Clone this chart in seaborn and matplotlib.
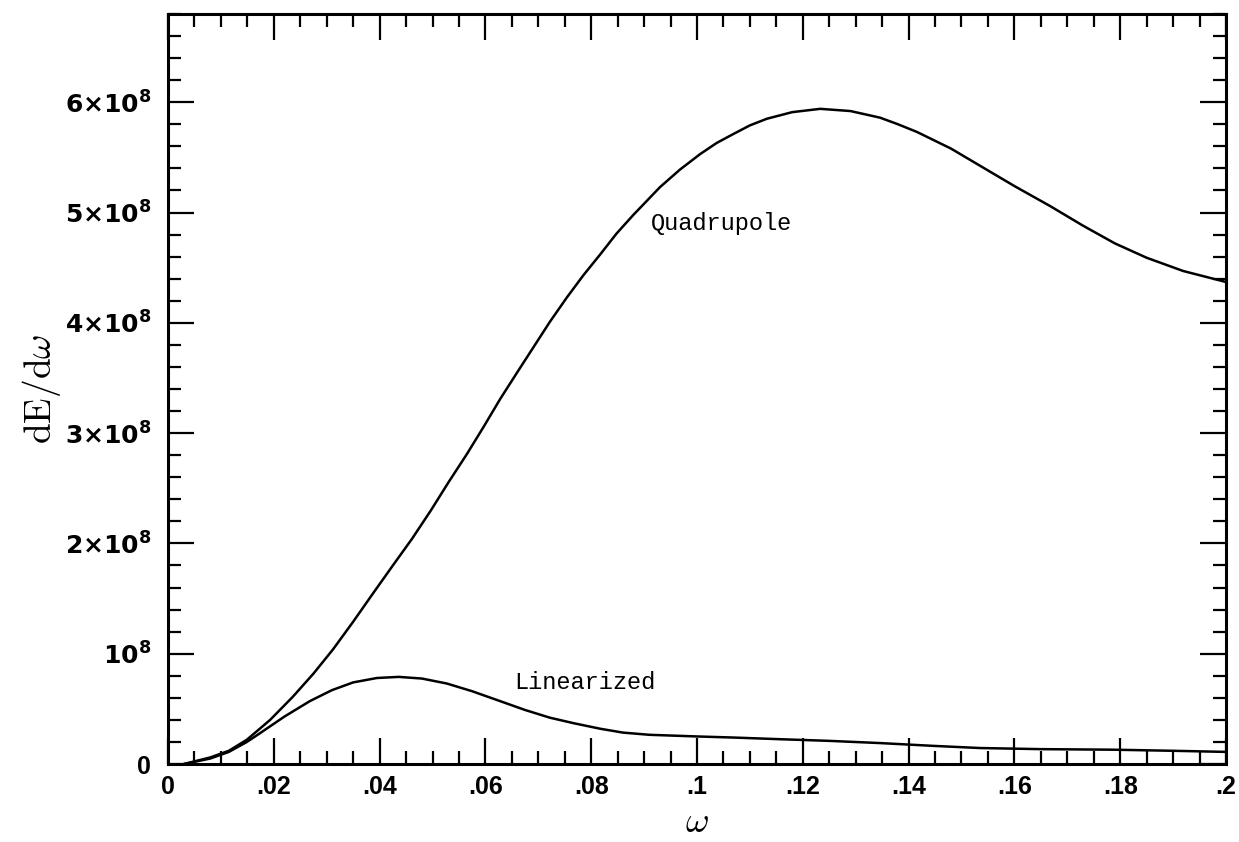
import numpy as np
import pandas as pd
import matplotlib
matplotlib.use("Agg")
import matplotlib.pyplot as plt
import seaborn as sns
from matplotlib.ticker import MultipleLocator, FixedLocator

# Values (omega, dE/domega in units of 1e8)
quad_w = [0.003, 0.008, 0.0115, 0.0149, 0.0193, 0.0236, 0.0275, 0.0312, 0.035,
          0.0388, 0.0425, 0.0461, 0.0497, 0.0531, 0.0565, 0.0597, 0.0628, 0.066,
          0.0691, 0.0722, 0.0754, 0.0785, 0.0817, 0.0848, 0.088, 0.093, 0.0968,
          0.1006, 0.1037, 0.1068, 0.11, 0.1132, 0.118, 0.1233, 0.129, 0.1346,
          0.138, 0.1416, 0.148, 0.154, 0.16, 0.1667, 0.173, 0.179, 0.185, 0.1919, 0.2]
quad_e = [0.0, 0.06, 0.12, 0.22, 0.40, 0.61, 0.82, 1.04, 1.29,
          1.55, 1.80, 2.04, 2.30, 2.56, 2.81, 3.06, 3.31, 3.55,
          3.78, 4.01, 4.23, 4.43, 4.62, 4.81, 4.98, 5.23, 5.39,
          5.53, 5.63, 5.71, 5.79, 5.85, 5.91, 5.94, 5.92, 5.86,
          5.80, 5.73, 5.58, 5.41, 5.24, 5.06, 4.88, 4.72, 4.59, 4.47, 4.37]

lin_w = [0.003, 0.008, 0.0115, 0.0149, 0.0174, 0.022, 0.0268, 0.031, 0.035,
         0.0395, 0.0436, 0.048, 0.0527, 0.0575, 0.0628, 0.0675, 0.0722, 0.0767,
         0.0817, 0.086, 0.091, 0.1, 0.107, 0.1157, 0.125, 0.1346, 0.1445, 0.1535,
         0.165, 0.1786, 0.19, 0.2]
lin_e = [0.0, 0.05, 0.11, 0.20, 0.28, 0.43, 0.57, 0.67, 0.74,
         0.78, 0.79, 0.775, 0.73, 0.66, 0.57, 0.49, 0.42, 0.37,
         0.32, 0.285, 0.265, 0.25, 0.24, 0.225, 0.21, 0.19, 0.165, 0.145,
         0.135, 0.13, 0.12, 0.11]

x_ticks = [0, 0.02, 0.04, 0.06, 0.08, 0.1, 0.12, 0.14, 0.16, 0.18, 0.2]
x_labels = ["0", ".02", ".04", ".06", ".08", ".1", ".12", ".14", ".16", ".18", ".2"]
y_ticks = [0, 1e8, 2e8, 3e8, 4e8, 5e8, 6e8]
y_labels = ["0", r"$\mathbf{10^8}$", r"$\mathbf{2{\times}10^8}$", r"$\mathbf{3{\times}10^8}$",
            r"$\mathbf{4{\times}10^8}$", r"$\mathbf{5{\times}10^8}$", r"$\mathbf{6{\times}10^8}$"]

df = pd.concat([
    pd.DataFrame({"w": quad_w, "E": np.array(quad_e) * 1e8, "curve": "Quadrupole"}),
    pd.DataFrame({"w": lin_w, "E": np.array(lin_e) * 1e8, "curve": "Linearized"}),
])

sns.set_style("ticks")
plt.rcParams["mathtext.fontset"] = "dejavusans"
plt.rcParams["text.color"] = "black"
plt.rcParams["xtick.color"] = "black"
plt.rcParams["ytick.color"] = "black"
plt.rcParams["axes.labelcolor"] = "black"

fig = plt.figure(figsize=(12.39, 8.42), dpi=100)
ax = fig.add_axes([0.1356, 0.0926, 0.8539, 0.8908])

sns.lineplot(data=df, x="w", y="E", units="curve", estimator=None, sort=False,
             color="black", linewidth=1.8, ax=ax, legend=False)

ax.set_xlim(0, 0.2)
ax.set_ylim(0, 6.8e8)

ax.xaxis.set_major_locator(FixedLocator(x_ticks))
ax.set_xticklabels(x_labels)
ax.xaxis.set_minor_locator(MultipleLocator(0.005))
ax.yaxis.set_major_locator(FixedLocator(y_ticks))
ax.set_yticklabels(y_labels)
ax.yaxis.set_minor_locator(MultipleLocator(0.2e8))

ax.tick_params(which="both", direction="in", top=True, right=True, width=1.6,
               color="black", labelcolor="black")
ax.tick_params(which="major", length=19, labelsize=18)
ax.tick_params(axis="x", which="major", pad=8)
ax.tick_params(axis="y", which="major", pad=12)
ax.tick_params(which="minor", length=9.5)
for lab in ax.get_xticklabels() + ax.get_yticklabels():
    lab.set_fontweight("bold")
    lab.set_family("Liberation Sans")
for s in ax.spines.values():
    s.set_linewidth(2.2)
    s.set_color("black")

ax.set_xlabel(r"$\omega$", fontsize=26, labelpad=4, math_fontfamily="cm")
ax.set_ylabel(r"$\mathrm{dE/d}\omega$", fontsize=27, labelpad=1, math_fontfamily="cm")

ax.text(0.1047, 4.9e8, "Quadrupole", family="Liberation Mono", fontsize=17,
        ha="center", va="center")
ax.text(0.0788, 0.74e8, "Linearized", family="Liberation Mono", fontsize=17,
        ha="center", va="center")

fig.savefig("out.png", dpi=100)
